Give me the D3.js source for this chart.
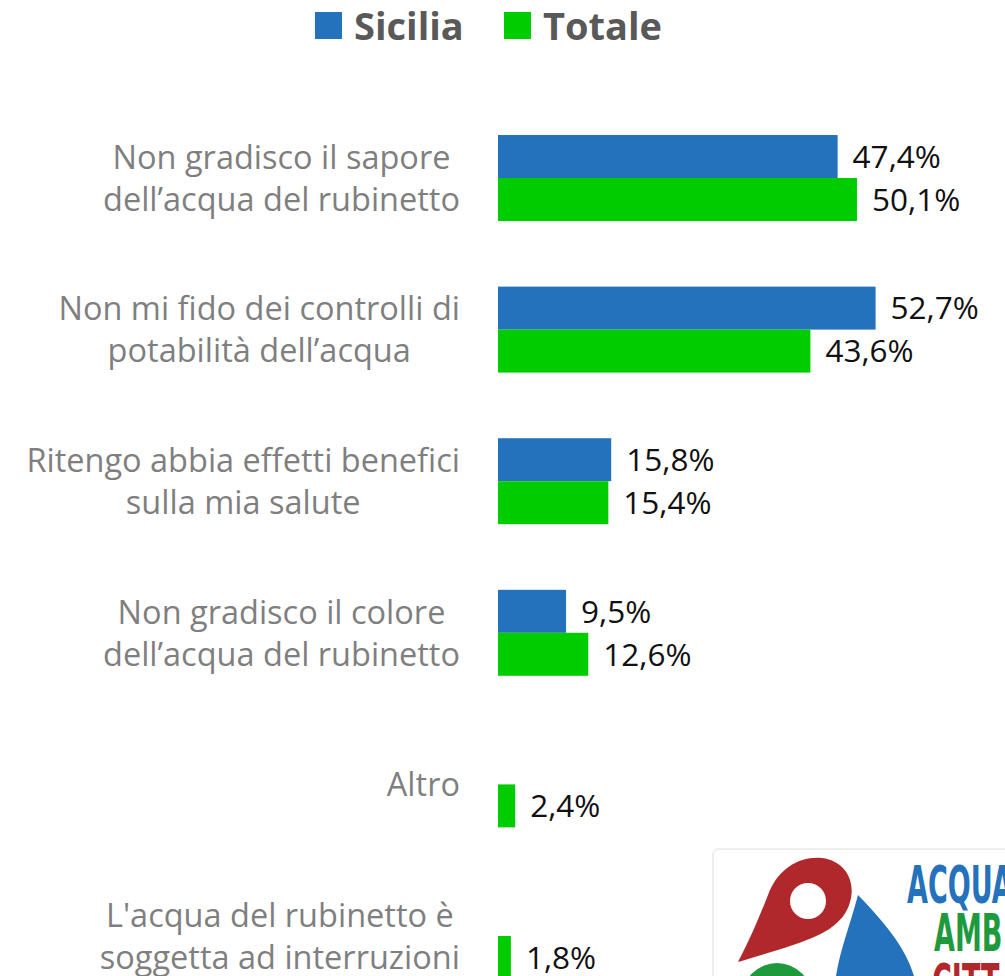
<!DOCTYPE html>
<html lang="it">
<head>
<meta charset="utf-8">
<script src="https://d3js.org/d3.v7.min.js"></script>
<style>
  body { margin: 0; background: #fff; }
  svg { display: block; }
  .cat { font-family: "Open Sans", sans-serif; font-size: 32.5px; fill: #7f7f7f; }
  .val { font-family: "Open Sans", sans-serif; font-size: 31.5px; fill: #111; }
  .leg { font-family: "Open Sans", sans-serif; font-size: 38px; font-weight: 700; fill: #595959; }
</style>
</head>
<body>
<svg id="chart" width="1005" height="976"></svg>
<script>
// categories (each label split into its lines) and the two series, in %
var categories = [
  ["Non gradisco il sapore", "dell\u2019acqua del rubinetto"],
  ["Non mi fido dei controlli di", "potabilità dell\u2019acqua"],
  ["Ritengo abbia effetti benefici", "sulla mia salute"],
  ["Non gradisco il colore", "dell\u2019acqua del rubinetto"],
  ["Altro"],
  ["L'acqua del rubinetto è", "soggetta ad interruzioni"]
];
var sicilia = [47.4, 52.7, 15.8, 9.5, null, null];
var totale  = [50.1, 43.6, 15.4, 12.6, 2.4, 1.8];
var seriesNames = ["Sicilia", "Totale"];
var colors = ["#2372bb", "#00cc00"];

var svg = d3.select("#chart");
var fmt = function(v) { return d3.format(".1f")(v).replace(".", ",") + "%"; };

var x = d3.scaleLinear().domain([0, 60]).range([498, 498 + 60 * 7.165]);
var y = d3.scaleBand().domain(d3.range(categories.length))
    .range([104.7, 1009.3]).paddingInner(0.433).paddingOuter(0.2);
var sub = d3.scaleBand().domain([0, 1]).range([0, y.bandwidth()]);

// bars
var series = [sicilia, totale];
series.forEach(function(vals, s) {
  var g = svg.append("g");
  var rows = vals.map(function(v, i) { return {v: v, i: i}; }).filter(function(d) { return d.v != null; });
  g.selectAll("rect").data(rows).enter().append("rect")
    .attr("x", x(0))
    .attr("y", function(d) { return y(d.i) + sub(s); })
    .attr("width", function(d) { return x(d.v) - x(0); })
    .attr("height", sub.bandwidth())
    .attr("fill", colors[s]);
  g.selectAll("text").data(rows).enter().append("text")
    .attr("class", "val")
    .attr("x", function(d) { return x(d.v) + 15; })
    .attr("y", function(d) { return y(d.i) + sub(s) + sub.bandwidth() / 2; })
    .attr("dy", "0.36em")
    .text(function(d) { return fmt(d.v); });
});

// category labels: lines centred inside a block whose right edge is fixed
var labelRight = 460, lineH = 42;
categories.forEach(function(lines, i) {
  var cy = y(i) + y.bandwidth() / 2;
  var t = svg.append("text").attr("class", "cat").attr("text-anchor", "middle");
  var spans = lines.map(function(l, k) {
    return t.append("tspan").attr("y", cy + (k - (lines.length - 1) / 2) * lineH).attr("dy", "0.36em").text(l);
  });
  var maxW = d3.max(spans, function(sp) { return sp.node().getComputedTextLength(); });
  spans.forEach(function(sp) { sp.attr("x", labelRight - maxW / 2); });
});

// legend
var legX = [315, 504];
seriesNames.forEach(function(n, s) {
  svg.append("rect").attr("x", legX[s]).attr("y", 12).attr("width", 27).attr("height", 27).attr("fill", colors[s]);
  svg.append("text").attr("class", "leg").attr("x", legX[s] + 39).attr("y", 26).attr("dy", "0.36em").text(n);
});

// logo (partially visible, bottom right)
var logo = svg.append("g");
logo.append("rect").attr("x", 713).attr("y", 849).attr("width", 320).attr("height", 160).attr("rx", 6)
  .attr("fill", "#fff").attr("stroke", "#eeeeee").attr("stroke-width", 2);
logo.append("path")
  .attr("d", "M738,962 C752,935 760,915 768,895 C778,868 800,856 822,858 C846,861 856,882 850,902 C844,925 820,936 796,944 C775,951 755,957 738,962 Z")
  .attr("fill", "#b0282c");
logo.append("circle").attr("cx", 808).attr("cy", 901).attr("r", 18).attr("fill", "#fff");
logo.append("path")
  .attr("d", "M858,895 C880,918 905,945 914,976 L836,976 C840,950 850,925 858,895 Z")
  .attr("fill", "#2372bb");
logo.append("circle").attr("cx", 777).attr("cy", 998).attr("r", 35).attr("fill", "#1e9a3c");
var lt = logo.append("g").style("font-family", "'DejaVu Sans', sans-serif").style("font-weight", 700);
[["ACQUA", 907, 903, "#2372bb"], ["AMB", 934, 951, "#1e9a3c"], ["CITT", 932, 1001, "#b0282c"]].forEach(function(w) {
  lt.append("text").attr("transform", "translate(" + w[1] + "," + w[2] + ") scale(0.52,1)")
    .attr("font-size", 52).attr("fill", w[3]).text(w[0]);
});
</script>
</body>
</html>
